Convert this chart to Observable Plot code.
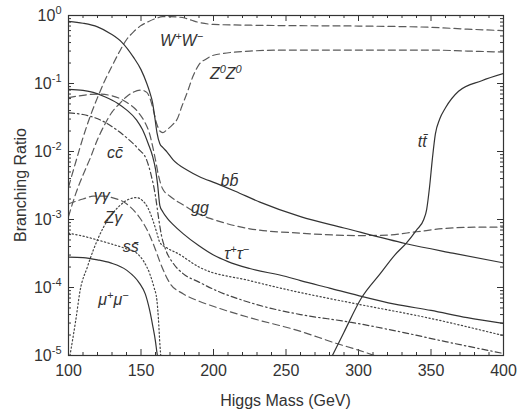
<!DOCTYPE html>
<html><head><meta charset="utf-8">
<script src="https://cdn.jsdelivr.net/npm/d3@7"></script>
<script src="https://cdn.jsdelivr.net/npm/@observablehq/plot@0.6"></script>
<style>body{margin:0;background:#fff;}</style>
</head><body><div id="chart"></div>
<script>
// ---- data (Higgs mass in GeV, branching ratio) ----
const bbMass = [100,110,120,129,137,145,150,154,156,158,159.5,161,163,165,168,172,182,190,202,215,232,260,290,333,365,400];
const bbBR   = [0.82,0.77,0.68,0.54,0.40,0.24,0.16,0.10,0.075,0.052,0.032,0.019,0.013,0.0115,0.0098,0.0076,0.0053,0.0043,0.0034,0.0026,0.0018,0.0011,7.5e-4,4.4e-4,3.2e-4,2.3e-4];

const tauMass = [100,110,117,125,134,140,147,151,155,158,160,161.5,163,165,168,172,179,190,200,210,225,250,260,280,300,325,350,375,400];
const tauBR   = [0.082,0.079,0.074,0.064,0.051,0.041,0.029,0.021,0.013,0.0085,0.0055,0.0032,0.0016,0.0013,0.00105,8.5e-4,6.2e-4,4.1e-4,3.0e-4,2.4e-4,1.9e-4,1.45e-4,1.26e-4,9.8e-5,7.6e-5,5.7e-5,4.6e-5,3.6e-5,2.95e-5];

const ggMass = [100,110,120,130,140,148,153,156,158,160,162,165,170,180,190,200,225,260,300,320,340,360,380,400];
const ggBR   = [0.062,0.067,0.07,0.066,0.053,0.038,0.026,0.018,0.012,0.0075,0.0045,0.0028,0.0022,0.0016,0.0012,0.001,7.3e-4,6.3e-4,5.8e-4,5.9e-4,6.6e-4,7.4e-4,7.7e-4,7.7e-4];

const ccMass = [100,110,117,125,133,140,148,154,157,160,162,164,167,172,179,190,202,220,237,260,294,330,360,400];
const ccBR   = [0.037,0.035,0.032,0.027,0.021,0.016,0.011,0.0074,0.0045,0.0022,0.0011,6e-4,3.6e-4,2.3e-4,1.6e-4,1.2e-4,9e-5,6.5e-5,5.1e-5,4.0e-5,3.1e-5,2.2e-5,1.6e-5,1.07e-5];

const gamMass = [100,110,117,125,130,140,149,155,160,163,170,179,190,202,225,259,285,300,320];
const gamBR   = [1.7e-3,2.0e-3,2.2e-3,2.2e-3,2.1e-3,1.7e-3,1.07e-3,6.5e-4,3.6e-4,2.4e-4,1.15e-4,8.1e-5,6.3e-5,5.1e-5,3.6e-5,2.3e-5,1.5e-5,1.2e-5,8.5e-6];

const zgMass = [101,105,108,113,117,124,134,142,147,151,155,158,161,163,168,175,190,225,259,294,350,400];
const zgBR   = [1.0e-5,3.3e-5,9e-5,2e-4,3.5e-4,7.6e-4,1.5e-3,2.0e-3,2.1e-3,1.9e-3,1.45e-3,1.0e-3,6.3e-4,4.6e-4,3.8e-4,3.2e-4,2.0e-4,1.26e-4,8.5e-5,6e-5,3.5e-5,1.96e-5];

const ssMass = [100,110,120,129,140,147,152,156,159,161,162,163,164];
const ssBR   = [6.3e-4,5.7e-4,5.0e-4,4.4e-4,3.7e-4,3.2e-4,2.4e-4,1.6e-4,1.0e-4,6.4e-5,3.5e-5,1.5e-5,8e-6];

const muMass = [100,110,120,129,140,149,153,156,158,160,161,162];
const muBR   = [2.8e-4,2.75e-4,2.55e-4,2.3e-4,1.8e-4,1.15e-4,8e-5,4.6e-5,2.8e-5,1.6e-5,1.1e-5,8e-6];

const wwMass = [100,105,110,115,120,125,130,135,140,145,150,155,160,165,170,175,180,185,190,200,225,250,300,350,375,400];
const wwBR   = [0.003,0.007,0.016,0.033,0.062,0.11,0.18,0.29,0.44,0.58,0.71,0.81,0.9,0.96,0.965,0.95,0.92,0.85,0.79,0.74,0.72,0.71,0.70,0.67,0.63,0.6];

const zzMass = [100,105,110,115,120,125,130,135,140,145,150,154,156,158,161,163,165,168,172,175,178,182,186,190,195,200,225,250,300,350,375,400];
const zzBR   = [0.0011,0.0024,0.0045,0.008,0.015,0.025,0.038,0.05,0.064,0.075,0.08,0.074,0.062,0.045,0.025,0.02,0.019,0.021,0.025,0.03,0.045,0.075,0.13,0.19,0.23,0.26,0.3,0.31,0.31,0.31,0.30,0.29];

const ttMass = [282,290,302,315,325,333,340,345,347,349,351,353,356,360,369,385,400];
const ttBR   = [1e-5,2.2e-5,7e-5,1.6e-4,3e-4,4.5e-4,7e-4,1.0e-3,1.4e-3,3e-3,8e-3,0.018,0.03,0.044,0.077,0.11,0.14];

// curve labels
const labelText = ["W{+}W{−}","Z{0}Z{0}","cc\u0304","bb\u0304","gg","γγ","Zγ","ss\u0304","μ{+}μ{−}","τ{+}τ{−}","tt\u0304"];
const labelMass = [178,208.5,132,211,190.6,123,131,143,131,216,344];
const labelBR   = [0.43,0.14,0.0097,0.0037,0.0015,0.0022,0.00104,0.00039,6.5e-5,3.1e-4,0.014];

// axis ticks
const xMajor = [100,150,200,250,300,350,400];
const xMinor = d3.range(110,400,10).filter(v => v % 50 !== 0);
const yMajor = [1e-5,1e-4,1e-3,1e-2,1e-1,1];
const yMinor = [-5,-4,-3,-2,-1].flatMap(k => [2,3,4,5,6,7,8,9].map(m => m * Math.pow(10,k)));

// ---- layout ----
const W = 517, H = 416, mL = 68, mR = 14, mT = 15, mB = 61;
const innerW = W - mL - mR, innerH = H - mT - mB;

const rows = (ms, vs) => ms.map((m, i) => ({mass: m, br: vs[i]}));
const series = [
  {m: wwMass,  v: wwBR,  dash: "7,4", stroke: "#5a5a5a"},
  {m: zzMass,  v: zzBR,  dash: "7,4", stroke: "#5a5a5a"},
  {m: ggMass,  v: ggBR,  dash: "7,4", stroke: "#5a5a5a"},
  {m: gamMass, v: gamBR, dash: "7,4", stroke: "#5a5a5a"},
  {m: ccMass,  v: ccBR,  dash: "6,3,1.5,3", stroke: "#444"},
  {m: zgMass,  v: zgBR,  dash: "1.3,2.4", stroke: "#444"},
  {m: ssMass,  v: ssBR,  dash: "1.3,2.4", stroke: "#444"},
  {m: bbMass,  v: bbBR,  dash: null, stroke: "#333"},
  {m: tauMass, v: tauBR, dash: null, stroke: "#333"},
  {m: muMass,  v: muBR,  dash: null, stroke: "#333"},
  {m: ttMass,  v: ttBR,  dash: null, stroke: "#333"}
];

const lineMarks = series.map(s => Plot.line(rows(s.m, s.v), {
  x: "mass", y: "br", stroke: s.stroke, strokeWidth: 1.2,
  strokeDasharray: s.dash, curve: "monotone-x", clip: true
}));

const labels = labelText.map((t, i) => ({t, m: labelMass[i], v: labelBR[i]}));

const tickColor = "#333";
const chart = Plot.plot({
  width: W, height: H, marginLeft: mL, marginRight: mR, marginTop: mT, marginBottom: mB,
  style: {fontFamily: "'Liberation Sans', Arial, sans-serif", fontSize: "16px", color: "#333", background: "#fff"},
  x: {domain: [100, 400], ticks: xMajor, tickSize: 0, tickPadding: 9, tickFormat: d => String(d), label: null},
  y: {type: "log", domain: [1e-5, 1], ticks: yMajor, tickSize: 0, tickPadding: 7,
      tickFormat: d => "10^" + Math.round(Math.log10(d)), label: null},
  marks: [
    Plot.tickX(xMajor, {x: d => d, insetTop: innerH - 6, stroke: tickColor}),
    Plot.tickX(xMajor, {x: d => d, insetBottom: innerH - 6, stroke: tickColor}),
    Plot.tickX(xMinor, {x: d => d, insetTop: innerH - 3, stroke: tickColor}),
    Plot.tickX(xMinor, {x: d => d, insetBottom: innerH - 3, stroke: tickColor}),
    Plot.tickY(yMajor, {y: d => d, insetRight: innerW - 6, stroke: tickColor}),
    Plot.tickY(yMajor, {y: d => d, insetLeft: innerW - 6, stroke: tickColor}),
    Plot.tickY(yMinor, {y: d => d, insetRight: innerW - 3, stroke: tickColor}),
    Plot.tickY(yMinor, {y: d => d, insetLeft: innerW - 3, stroke: tickColor}),
    ...lineMarks,
    Plot.text(labels, {x: "m", y: "v", text: "t", fontSize: 16, fontStyle: "italic", fill: "#333", textAnchor: "middle"}),
    Plot.frame({stroke: "#333", strokeWidth: 1.2})
  ]
});

document.getElementById("chart").appendChild(chart);

// superscript formatting
const svg = d3.select(chart);
svg.selectAll("text").each(function() {
  const el = d3.select(this);
  const t = this.textContent;
  if (t.startsWith("10^")) {
    const e = t.slice(3);
    el.text("10");
    el.append("tspan").attr("dy", "-7").attr("font-size", "11px").text(e);
  } else if (t.includes("{")) {
    el.text("");
    const parts = t.split(/(\{[^}]*\})/).filter(p => p.length);
    let up = false;
    parts.forEach(p => {
      if (p.startsWith("{")) {
        el.append("tspan").attr("dy", up ? 0 : -6).attr("font-size", "11px").text(p.slice(1, -1));
        up = true;
      } else {
        el.append("tspan").attr("dy", up ? 6 : 0).text(p);
        up = false;
      }
    });
  }
});

svg.append("text").attr("x", (mL + W - mR) / 2).attr("y", 406)
  .attr("text-anchor", "middle").attr("fill", "#333").attr("font-size", 16).text("Higgs Mass (GeV)");
svg.append("text").attr("transform", `translate(26,${mT + innerH / 2}) rotate(-90)`)
  .attr("text-anchor", "middle").attr("fill", "#333").attr("font-size", 16).text("Branching Ratio");
</script>
</body></html>
